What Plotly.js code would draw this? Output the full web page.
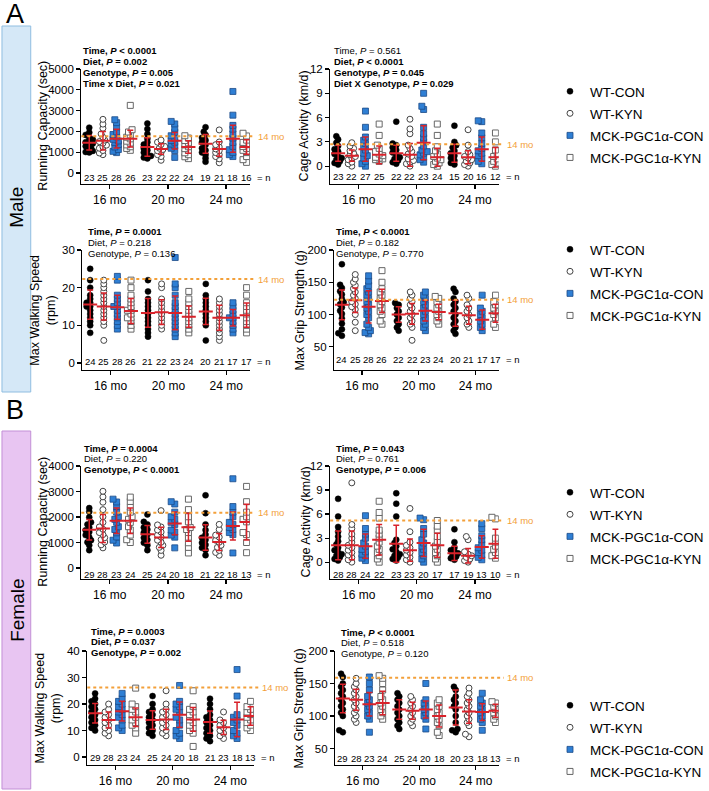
<!DOCTYPE html>
<html><head><meta charset="utf-8">
<script src="https://cdn.plot.ly/plotly-3.0.1.min.js"></script>
<style>body{margin:0;background:#fff}#chart{width:709px;height:791px}</style>
</head><body><div id="chart"></div>
<script>
// ---------------- DATA ----------------
const groupNames = ['WT-CON', 'WT-KYN', 'MCK-PGC1α-CON', 'MCK-PGC1α-KYN'];
const timeLabels = ['16 mo', '20 mo', '24 mo'];
// group order in each array: 16 mo (WT-CON, WT-KYN, MCK-CON, MCK-KYN), 20 mo (...), 24 mo (...)

// Male – Running Capacity (sec)
const maleRunPts = [
  [990,1010,1060,1150,1220,1290,1350,1420,1480,1530,1610,1700,1830,1950,2180],
  [880,960,1080,1190,1260,1340,1430,1510,1580,1720,1880,2150,2350,2580],
  [980,1040,1130,1250,1370,1460,1540,1620,1730,1850,1980,2210,2420,2560],
  [1090,1180,1260,1350,1440,1530,1640,1720,1830,1970,2080,3250],
  [700,740,820,880,980,1090,1170,1260,1370,1480,1650,1870,2110,2380],
  [610,790,880,990,1070,1130,1190,1280,1370,1480,1580],
  [750,1080,1190,1310,1390,1480,1560,1660,1790,1960,2150,2360,2480],
  [690,780,880,970,1080,1170,1260,1350,1450,1560,1680,1790],
  [540,710,880,990,1090,1190,1360,1480,1570,1690,1830,1980,2200],
  [490,680,790,880,980,1070,1160,1250,1360,1490,2070],
  [790,880,990,1120,1280,1470,1680,1880,2110,2290,2780,3920],
  [510,640,790,980,1090,1180,1270,1360,1470,1580,1780,1910]
];
const maleRunMean = [1450,1550,1650,1650, 1250,1150,1550,1250, 1400,1150,1650,1250];
const maleRunSD   = [350,450,450,400, 450,250,400,300, 450,350,650,350];
const maleRunN    = [23,25,28,26, 23,22,22,24, 19,21,18,16];
const maleRunRef  = 1770;
const maleRunTicks = [0,1000,2000,3000,4000,5000];
const maleRunStats = ['<b>Time, <i>P</i> &lt; 0.0001</b>','<b>Diet, <i>P</i> = 0.002</b>','<b>Genotype, <i>P</i> = 0.005</b>','<b>Time x Diet, <i>P</i> = 0.021</b>'];

// Male – Cage Activity (km/d)
const maleCagePts = [
  [0.2,0.4,0.6,0.8,1.0,1.2,1.5,1.8,2.1,2.5,2.9,3.3,3.7],
  [0.0,0.3,0.5,0.8,1.0,1.2,1.4,1.6,1.9,2.2,2.5,2.9],
  [0.0,0.3,0.6,1.0,1.3,1.6,2.0,2.4,2.8,3.2,3.6,4.8,6.8],
  [0.6,0.8,0.9,1.0,1.1,1.3,1.5,1.8,2.2,2.6,3.8,5.2],
  [0.3,0.5,0.7,0.9,1.1,1.4,1.7,2.0,2.3,2.6,2.8,5.5],
  [0.0,0.3,0.5,0.7,0.9,1.2,1.5,1.8,2.2,2.6,4.0,4.6,5.8],
  [0.5,0.8,1.1,1.4,1.6,1.8,2.0,2.5,3.0,3.5,4.0,4.8,7.0,7.4,9.0],
  [0.0,0.2,0.4,0.6,0.8,1.0,1.2,1.5,1.9,2.4,3.8,5.2],
  [0.2,0.4,0.7,1.0,1.3,1.6,1.9,2.3,2.6,3.0,5.0],
  [0.0,0.2,0.4,0.6,0.8,1.0,1.2,1.4,1.8,2.6,4.5],
  [0.3,0.6,1.0,1.3,1.6,1.9,2.2,2.8,3.5,4.1,5.5,5.6],
  [0.0,0.2,0.4,0.6,0.9,1.2,1.5,2.0,3.0,4.1]
];
const maleCageMean = [1.6,1.3,2.1,1.4, 1.6,1.4,2.9,1.1, 1.6,1.1,2.1,1.1];
const maleCageSD   = [1.0,0.7,1.5,1.1, 1.0,1.4,2.1,1.1, 1.1,0.8,1.5,1.2];
const maleCageN    = [23,22,27,25, 22,22,23,24, 15,20,16,12];
const maleCageRef  = 2.7;
const maleCageTicks = [0,3,6,9,12];
const maleCageStats = ['Time, <i>P</i> = 0.561','<b>Diet, <i>P</i> &lt; 0.0001</b>','<b>Genotype, <i>P</i> = 0.045</b>','<b>Diet X Genotype, <i>P</i> = 0.029</b>'];

// Male – Max Walking Speed (rpm)
const maleWalkPts = [
  [8,10,11,12,13,14,15,15,16,16,17,18,20,22,25],
  [6,10,11,12,13,14,15,16,17,18,19,20,21,22],
  [9,10,11,12,13,14,15,15,16,17,18,22,23],
  [9,10,11,12,12,13,14,14,15,16,17,18,20,22],
  [7,8,9,10,11,12,13,14,15,16,17,19,22],
  [9,10,11,12,13,14,15,16,17,20,21],
  [7,8,9,10,11,12,13,14,15,16,18,20,21,28],
  [8,9,10,11,12,13,14,15,16,17,19],
  [6,10,11,12,13,14,15,16,17,18,21],
  [6,7,8,9,10,11,12,13,14,15,16,17],
  [8,9,10,11,12,12,13,14,15,16],
  [8,9,10,11,12,13,14,15,16,18,20]
];
const maleWalkMean = [15.5,15,14.8,13.8, 13.3,13.5,13.3,12.3, 13.7,12,12,12.7];
const maleWalkSD   = [3.9,3.6,3.2,3.3, 3.8,3.3,4.5,2.8, 3.5,3.3,2.2,3.2];
const maleWalkN    = [24,25,28,26, 21,22,23,24, 20,21,17,17];
const maleWalkRef  = 22.3;
const maleWalkTicks = [0,10,20,30];
const maleWalkStats = ['<b>Time, <i>P</i> = 0.0001</b>','Diet, <i>P</i> = 0.218','Genotype, <i>P</i> = 0.136'];

// Male – Max Grip Strength (g)
const maleGripPts = [
  [67,71,77,86,94,101,106,111,116,119,124,131,136,141,146,178],
  [75,88,100,108,112,116,120,125,130,135,140,145,150,155,162],
  [70,72,75,80,85,95,100,105,110,115,120,125,130,135,140,145,152,160],
  [85,90,100,105,110,115,120,125,130,135,140,150,168],
  [75,80,85,90,95,100,105,110,115,118],
  [60,80,85,90,95,100,105,110,115,120,125,130,135],
  [75,80,85,90,95,100,105,110,115,120,125,130,135],
  [85,90,95,100,105,110,115,120,125,128],
  [70,75,80,85,90,95,100,105,110,115,120,125,135,140],
  [80,85,90,95,100,105,110,115,125,130],
  [75,80,85,90,95,100,105,110,130],
  [80,85,95,100,105,110,115,120,130]
];
const maleGripMean = [115,122,112,121, 100,101,106,104, 102,99,92,102];
const maleGripSD   = [23,19,25,18, 12,16,16,12, 20,14,15,14];
const maleGripN    = [24,25,28,26, 22,22,23,24, 20,21,17,17];
const maleGripRef  = 123;
const maleGripTicks = [50,100,150,200];
const maleGripStats = ['<b>Time, <i>P</i> &lt; 0.0001</b>','Diet, <i>P</i> = 0.182','Genotype, <i>P</i> = 0.770'];

// Female – Running Capacity (sec)
const femRunPts = [
  [700,890,1010,1090,1210,1290,1410,1480,1590,1710,1790,1990,2210,2350],
  [790,910,1020,1110,1190,1310,1390,1520,1610,1790,2010,2290,2580,2790,3010],
  [980,1090,1220,1380,1510,1620,1790,1910,2010,2190,2410,2590,2700],
  [1000,1110,1290,1490,1620,1790,1910,2010,2190,2390,2610,2780],
  [700,890,990,1110,1190,1310,1390,1510,1590,1710,1810,2100],
  [500,690,810,890,1010,1090,1210,1290,1410,1490,1610,1690,2250],
  [790,1210,1290,1410,1490,1710,1790,1910,2010,2190,2510,2600],
  [590,810,990,1210,1390,1510,1590,1810,2010,2290,2700],
  [500,710,790,910,990,1110,1190,1310,1490,1710,2150,2850],
  [500,610,690,810,890,1010,1090,1210,1290,1510,1710],
  [590,1310,1390,1510,1590,1710,1790,2010,2190,2410,3500],
  [600,1000,1310,1390,1810,1910,2010,2190,2600,3200]
];
const femRunMean = [1500,1550,1850,1850, 1320,1200,1750,1600, 1200,1020,1650,1800];
const femRunSD   = [400,550,500,500, 350,400,450,550, 500,330,550,700];
const femRunN    = [29,28,23,24, 25,24,20,18, 21,22,18,13];
const femRunRef  = 2170;
const femRunTicks = [0,1000,2000,3000,4000];
const femRunStats = ['<b>Time, <i>P</i> = 0.0004</b>','Diet, <i>P</i> = 0.220','<b>Genotype, <i>P</i> &lt; 0.0001</b>'];

// Female – Cage Activity (km/d)
const femCagePts = [
  [0.2,0.4,0.6,0.8,1.0,1.2,1.5,1.8,2.2,2.6,3.2,3.8,4.4,5.7,7.9],
  [0.0,0.3,0.6,0.9,1.2,1.5,1.8,2.1,2.5,3.0,3.5,4.2,4.7,9.9],
  [0.2,0.5,0.8,1.0,1.3,1.6,2.0,2.4,3.0,3.5,4.2,5.8],
  [0.0,0.4,0.8,1.2,1.6,2.0,2.5,3.0,3.5,4.0,5.5,6.2,7.6],
  [0.2,0.4,0.6,0.8,1.0,1.3,1.6,2.0,2.4,2.8,5.7,7.3,8.6],
  [0.0,0.3,0.6,0.9,1.2,1.5,1.8,2.1,2.5,3.8,6.7],
  [0.0,0.4,0.8,1.2,1.6,2.0,2.4,2.8,3.5,4.2,5.3,5.5],
  [0.0,0.4,0.8,1.2,1.6,2.0,2.6,3.2,4.0,4.5,5.2],
  [0.3,0.5,0.7,0.9,1.1,1.3,1.5,1.8,2.5,4.1],
  [0.0,0.2,0.4,0.6,0.8,1.0,1.3,2.8,3.2],
  [0.3,0.6,0.9,1.2,1.5,1.8,2.2,2.8,3.3,4.2,4.8],
  [0.5,0.8,1.2,1.6,2.0,2.5,3.0,5.4,5.6]
];
const femCageMean = [2.1,2.1,2.0,2.8, 2.3,1.5,2.4,2.1, 1.1,0.8,1.9,2.3];
const femCageSD   = [1.8,1.8,1.5,1.9, 2.3,1.4,1.7,1.5, 0.9,0.9,1.4,1.8];
const femCageN    = [28,28,24,22, 23,23,20,17, 17,19,13,10];
const femCageRef  = 5.2;
const femCageTicks = [0,3,6,9,12];
const femCageStats = ['<b>Time, <i>P</i> = 0.043</b>','Diet, <i>P</i> = 0.761','<b>Genotype, <i>P</i> = 0.006</b>'];

// Female – Max Walking Speed (rpm)
const femWalkPts = [
  [10,11,12,13,14,15,16,17,18,19,20,21,22,24],
  [8,9,10,11,12,13,14,15,16,17,18,20],
  [10,11,12,14,15,16,17,18,19,20,21,22,24],
  [9,11,12,13,14,15,16,17,18,19,20,26],
  [8,9,10,11,12,13,14,15,16,17,18,20,23],
  [8,9,10,11,12,13,14,15,16,17,18,20,25],
  [7,8,9,10,12,14,15,17,18,19,20,21,27],
  [4,9,10,11,12,13,14,15,16,17,18,19,25],
  [6,7,8,9,10,11,12,13,14,15,16,18,20,22],
  [7,8,9,10,11,12,13,14,17],
  [7,8,9,10,12,13,14,15,16,23,33],
  [10,11,12,13,14,15,16,17,18,19,21]
];
const femWalkMean = [16.5,14,17.3,15, 14,14.2,16,14.2, 13.2,11.2,14.2,15.5];
const femWalkSD   = [3.7,3,3.7,3.5, 3.5,3.8,4.8,4.5, 4.2,2.7,6.5,3.5];
const femWalkN    = [29,28,23,24, 25,24,20,18, 21,23,18,13];
const femWalkRef  = 26.2;
const femWalkTicks = [0,10,20,30,40];
const femWalkStats = ['<b>Time, <i>P</i> = 0.0003</b>','<b>Diet, <i>P</i> = 0.037</b>','<b>Genotype, <i>P</i> = 0.002</b>'];

// Female – Max Grip Strength (g)
const femGripPts = [
  [75,78,100,105,110,115,120,125,130,135,140,145,150,160,165],
  [90,95,100,105,110,115,120,125,130,135,140,145,150,158],
  [75,95,100,105,110,115,120,125,130,140,150,160],
  [95,100,105,110,115,120,125,130,140,150,158,162],
  [80,85,90,95,100,105,110,115,120,125,130,135],
  [85,90,95,100,105,110,115,120,125,130],
  [80,95,100,105,110,115,120,125,150],
  [70,75,85,90,95,100,105,110,115,120,125],
  [75,78,80,90,100,110,115,120,125,130,140,145],
  [68,72,85,90,95,100,105,110,115,120,125,130,135,143],
  [78,90,95,100,105,110,115,120,125,135],
  [90,95,100,105,110,115,120,122]
];
const femGripMean = [127,125,118,120, 110,108,110,100, 113,107,106,108];
const femGripSD   = [22,16,18,18, 15,13,13,17, 27,18,13,10];
const femGripN    = [29,28,23,24, 25,24,20,18, 20,23,18,13];
const femGripRef  = 159;
const femGripTicks = [50,100,150,200];
const femGripStats = ['<b>Time, <i>P</i> &lt; 0.0001</b>','Diet, <i>P</i> = 0.518','Genotype, <i>P</i> = 0.120'];

// ---------------- LAYOUT / STYLE ----------------
const W = 709, H = 791;
const px = x => x / W, py = y => 1 - y / H;
const FONT = 'Arial, Liberation Sans, Helvetica, sans-serif';
const RED = '#d8222a', ORANGE = '#f3a03a';
const TSTEP = 4.25, XR = [-0.58, 11.74];
const groupStyle = [
  {symbol:'circle', color:'#000000', line:{color:'#000000', width:0.5}},
  {symbol:'circle', color:'#ffffff', line:{color:'#444444', width:1}},
  {symbol:'square', color:'#2f7fd4', line:{color:'#1c4a86', width:0.8}},
  {symbol:'square', color:'#ffffff', line:{color:'#666666', width:1}}
];

const panels = [
  {pts:maleRunPts, mean:maleRunMean, sd:maleRunSD, n:maleRunN, ref:maleRunRef, ticks:maleRunTicks, stats:maleRunStats,
   title:'Running Capacity (sec)', box:[82,252,69,184], yr:[-530,5000], statX:82, statY:[51,61.5,72,83], nY:177, tPos:[43,126], legend:'legend'},
  {pts:maleCagePts, mean:maleCageMean, sd:maleCageSD, n:maleCageN, ref:maleCageRef, ticks:maleCageTicks, stats:maleCageStats,
   title:'Cage Activity (km/d)', box:[333,503,69,184], yr:[-2.2,12], statX:335, statY:[51,61.5,72,83], nY:176, tPos:[307,126]},
  {pts:maleWalkPts, mean:maleWalkMean, sd:maleWalkSD, n:maleWalkN, ref:maleWalkRef, ticks:maleWalkTicks, stats:maleWalkStats,
   title:'Max Walking Speed<br>(rpm)', box:[83,252,250,370], yr:[-1.86,30], statX:87, statY:[232,242.5,253], nY:361, tPos:[43,310], legend:'legend2'},
  {pts:maleGripPts, mean:maleGripMean, sd:maleGripSD, n:maleGripN, ref:maleGripRef, ticks:maleGripTicks, stats:maleGripStats,
   title:'Max Grip Strength (g)', box:[337,503,250,370], yr:[14,200], statX:337, statY:[232,242.5,253], nY:359, tPos:[303,310]},
  {pts:femRunPts, mean:femRunMean, sd:femRunSD, n:femRunN, ref:femRunRef, ticks:femRunTicks, stats:femRunStats,
   title:'Running Capacity (sec)', box:[82,252,466,579], yr:[-431,4000], statX:83, statY:[448,458.5,469.5], nY:574, tPos:[43,522], legend:'legend3'},
  {pts:femCagePts, mean:femCageMean, sd:femCageSD, n:femCageN, ref:femCageRef, ticks:femCageTicks, stats:femCageStats,
   title:'Cage Activity (km/d)', box:[333,503,466,579], yr:[-2.1,12], statX:337, statY:[448,458.5,469.5], nY:574, tPos:[309,522]},
  {pts:femWalkPts, mean:femWalkMean, sd:femWalkSD, n:femWalkN, ref:femWalkRef, ticks:femWalkTicks, stats:femWalkStats,
   title:'Max Walking Speed<br>(rpm)', box:[88,256,651,765], yr:[-3,40], statX:90, statY:[631,641.5,652], nY:757, tPos:[48,708], legend:'legend4'},
  {pts:femGripPts, mean:femGripMean, sd:femGripSD, n:femGripN, ref:femGripRef, ticks:femGripTicks, stats:femGripStats,
   title:'Max Grip Strength (g)', box:[338,503,651,765], yr:[24.6,200], statX:342, statY:[632,642.5,653], nY:758, tPos:[302,708]}
];

// deterministic beeswarm offsets (pixels -> x units)
function swarm(vals, pxY, pxX) {
  const order = vals.map((v,i)=>i).sort((a,b)=>vals[a]-vals[b]);
  const cands = [0,-1.8,1.8,-3.6,3.6];
  const placed = [], off = new Array(vals.length).fill(0);
  const minD = 3.4;
  for (const i of order) {
    const yp = vals[i]*pxY;
    let best = null, bestD = -1;
    for (const c of cands) {
      let d = 1e9;
      for (const p of placed) { const dd = Math.hypot(p.x-c, p.y-yp); if (dd < d) d = dd; }
      if (d >= minD) { best = c; bestD = d; break; }
      if (d > bestD) { bestD = d; best = c; }
    }
    placed.push({x:best, y:yp});
    off[i] = best / pxX;
  }
  return off;
}

const traces = [], annotations = [], shapes = [];
const layout = {
  width: W, height: H, margin:{l:0,r:0,t:0,b:0},
  paper_bgcolor:'#ffffff', plot_bgcolor:'rgba(0,0,0,0)',
  font:{family:FONT, color:'#000'}, showlegend:true
};

const legendTops = {legend:76, legend2:234, legend3:477, legend4:690};
Object.keys(legendTops).forEach(k => {
  layout[k] = {x:px(555), xanchor:'left', y:py(legendTops[k]), yanchor:'top',
    font:{family:FONT, size:13.5, color:'#000'}, bgcolor:'rgba(0,0,0,0)',
    traceorder:'grouped', tracegroupgap:1.5, itemclick:false, itemdoubleclick:false};
});

panels.forEach((P, pi) => {
  const s = pi === 0 ? '' : String(pi+1);
  const [xl, xr, yt, yb] = P.box;
  const pxX = (xr-xl)/(XR[1]-XR[0]);
  const pxY = (yb-yt)/(P.yr[1]-P.yr[0]);
  layout['xaxis'+s] = {domain:[px(xl), px(xr)], range:XR, anchor:'y'+s,
    showline:true, linecolor:'#000', linewidth:1.2, ticks:'outside', ticklen:4, tickwidth:1.2, tickcolor:'#000',
    tickvals:[1.5, 1.5+TSTEP, 1.5+2*TSTEP], ticktext:timeLabels,
    tickfont:{family:FONT, size:12, color:'#000'}, showgrid:false, zeroline:false, fixedrange:true};
  layout['yaxis'+s] = {domain:[py(yb), py(yt)], range:P.yr, anchor:'x'+s,
    showline:true, linecolor:'#000', linewidth:1.2, ticks:'outside', ticklen:4, tickwidth:1.2, tickcolor:'#000',
    tickvals:P.ticks, ticktext:P.ticks.map(String),
    tickfont:{family:FONT, size:11.5, color:'#000'}, showgrid:false, zeroline:false, fixedrange:true};

  // points
  for (let g = 0; g < 4; g++) {
    const xs = [], ys = [];
    for (let t = 0; t < 3; t++) {
      const vals = P.pts[t*4+g];
      const off = swarm(vals, pxY, pxX);
      vals.forEach((v, k) => { xs.push(t*TSTEP + g + off[k]); ys.push(v); });
    }
    const st = groupStyle[g];
    const tr = {type:'scatter', mode:'markers', x:xs, y:ys, xaxis:'x'+s, yaxis:'y'+s,
      name:groupNames[g], showlegend:!!P.legend, hoverinfo:'y+name',
      marker:{symbol:st.symbol, size:6, color:st.color, line:st.line}};
    if (P.legend) { tr.legend = P.legend; tr.legendgroup = P.legend + '_' + g; }
    traces.push(tr);
  }
  // mean ± SD
  const mx = [];
  for (let t = 0; t < 3; t++) for (let g = 0; g < 4; g++) mx.push(t*TSTEP + g);
  traces.push({type:'scatter', mode:'markers', x:mx, y:P.mean, xaxis:'x'+s, yaxis:'y'+s,
    showlegend:false, hoverinfo:'y',
    marker:{symbol:'line-ew', size:10, color:RED, line:{color:RED, width:2}},
    error_y:{type:'data', array:P.sd, visible:true, color:RED, thickness:1.5, width:3}});

  // n labels
  P.n.forEach((nv, k) => {
    annotations.push({xref:'x'+s, yref:'paper', x:mx[k], y:py(P.nY), text:String(nv), showarrow:false,
      xanchor:'center', yanchor:'middle', font:{family:FONT, size:9.5, color:'#000'}});
  });
  annotations.push({xref:'paper', yref:'paper', x:px(xr+5), y:py(P.nY), text:'= n', showarrow:false,
    xanchor:'left', yanchor:'middle', font:{family:FONT, size:9.5, color:'#000'}});

  // 14 mo reference line
  shapes.push({type:'line', xref:'paper', yref:'y'+s, x0:px(xl), x1:px(xr+5), y0:P.ref, y1:P.ref,
    line:{color:ORANGE, width:2, dash:'dot'}});
  annotations.push({xref:'paper', yref:'y'+s, x:px(xr+6), y:P.ref, text:'14 mo', showarrow:false,
    xanchor:'left', yanchor:'middle', font:{family:FONT, size:9.5, color:ORANGE}});

  // stats text
  P.stats.forEach((txt, k) => {
    annotations.push({xref:'paper', yref:'paper', x:px(P.statX), y:py(P.statY[k]), text:txt, showarrow:false,
      xanchor:'left', yanchor:'middle', font:{family:FONT, size:9.5, color:'#000'}});
  });

  // y title
  annotations.push({xref:'paper', yref:'paper', x:px(P.tPos[0]), y:py(P.tPos[1]), text:P.title, showarrow:false,
    textangle:-90, xanchor:'center', yanchor:'middle', font:{family:FONT, size:12.5, color:'#000'}});
});

// sex boxes and panel letters
shapes.push({type:'rect', xref:'paper', yref:'paper', x0:px(2), x1:px(31), y0:py(26), y1:py(392),
  fillcolor:'#d5e8f7', line:{color:'#8fbde0', width:1}, layer:'below'});
shapes.push({type:'rect', xref:'paper', yref:'paper', x0:px(2), x1:px(31), y0:py(431), y1:py(789),
  fillcolor:'#e8c5f2', line:{color:'#c28fd6', width:1}, layer:'below'});
annotations.push({xref:'paper', yref:'paper', x:px(17), y:py(207), text:'Male', textangle:-90, showarrow:false,
  xanchor:'center', yanchor:'middle', font:{family:FONT, size:19, color:'#000'}});
annotations.push({xref:'paper', yref:'paper', x:px(17), y:py(610), text:'Female', textangle:-90, showarrow:false,
  xanchor:'center', yanchor:'middle', font:{family:FONT, size:19, color:'#000'}});
annotations.push({xref:'paper', yref:'paper', x:px(4), y:py(14), text:'A', showarrow:false,
  xanchor:'left', yanchor:'middle', font:{family:FONT, size:27, color:'#000'}});
annotations.push({xref:'paper', yref:'paper', x:px(4), y:py(410), text:'B', showarrow:false,
  xanchor:'left', yanchor:'middle', font:{family:FONT, size:27, color:'#000'}});

layout.annotations = annotations;
layout.shapes = shapes;

Plotly.newPlot('chart', traces, layout, {staticPlot:true, displayModeBar:false});
</script>
</body></html>
